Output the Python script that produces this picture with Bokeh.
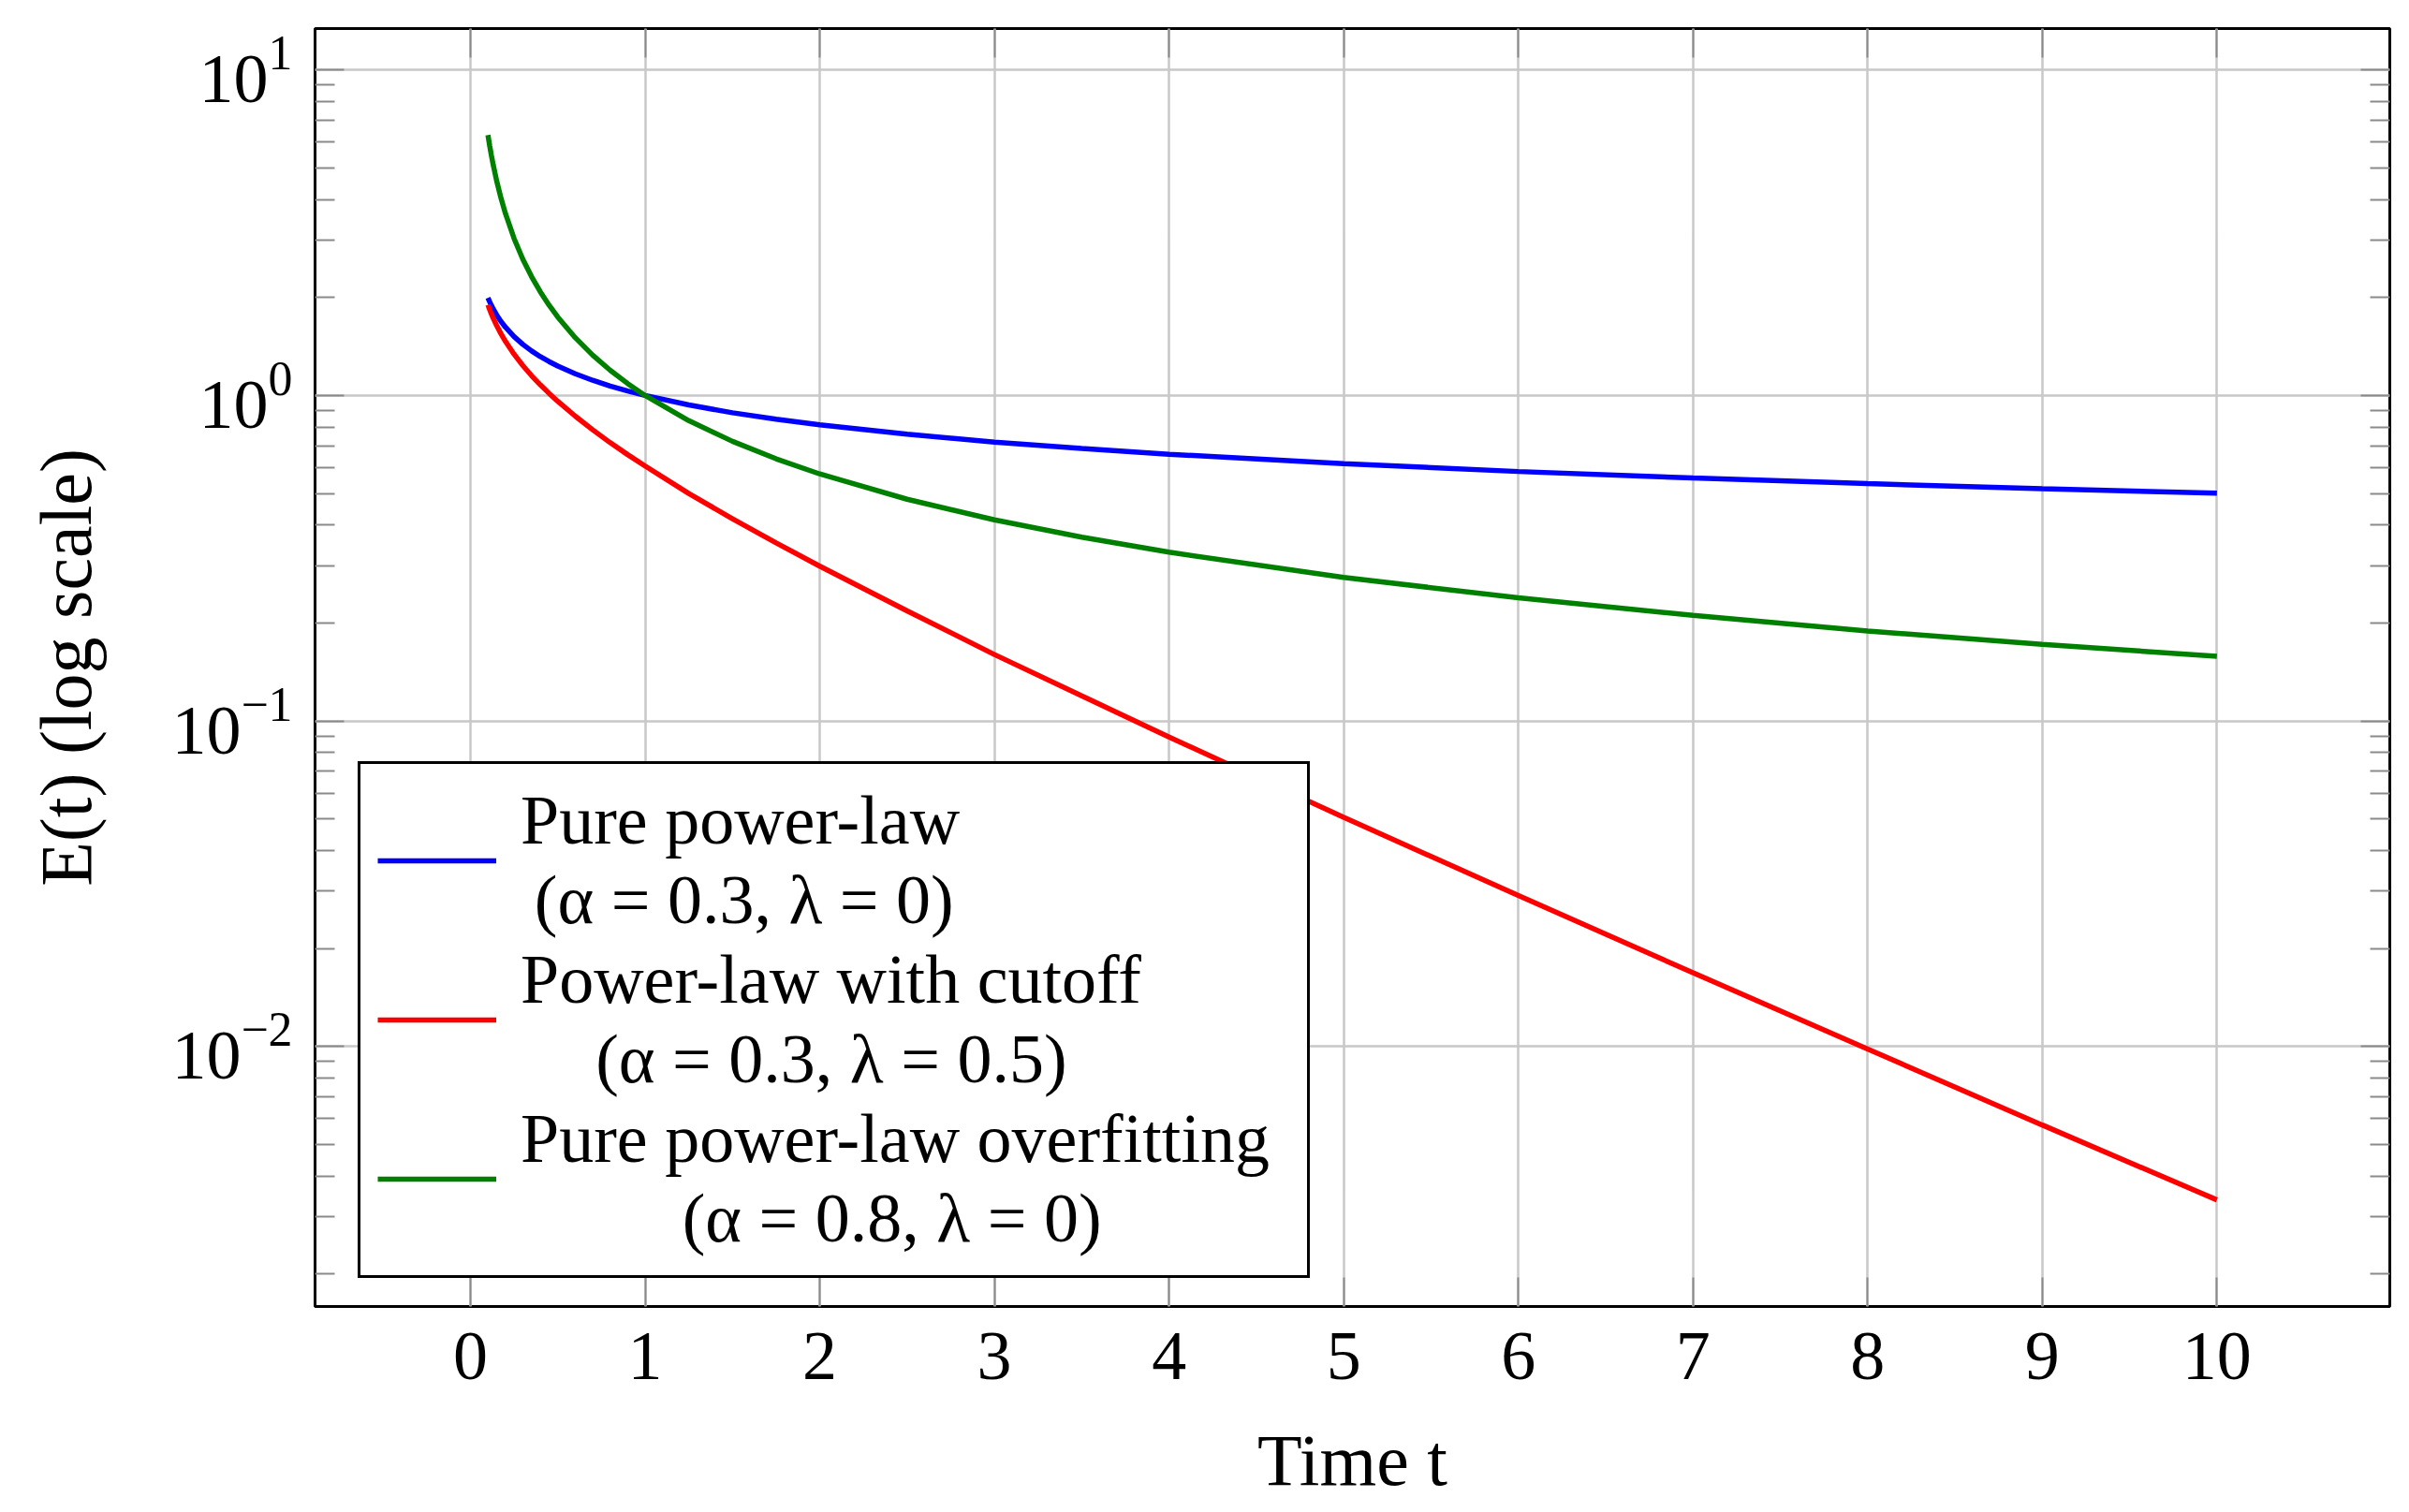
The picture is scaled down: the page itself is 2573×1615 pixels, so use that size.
from bokeh.plotting import figure
from bokeh.models import (Range1d, FixedTicker, LinearAxis, LogAxis, Legend,
                          LegendItem, LogTickFormatter, CustomJSTickFormatter)
from bokeh.embed import file_html
from bokeh.resources import INLINE

# ---- data ----
t = [0.1, 0.11, 0.12, 0.13, 0.15, 0.175, 0.2, 0.25, 0.3, 0.35, 0.4, 0.45, 0.5, 0.6,
     0.7, 0.8, 0.9, 1.0, 1.25, 1.5, 1.75, 2.0, 2.5, 3.0, 3.5, 4.0, 5.0, 6.0, 7.0,
     8.0, 9.0, 10.0]
pure_power = [1.995, 1.939, 1.889, 1.844, 1.767, 1.687, 1.621, 1.516, 1.435, 1.370,
              1.316, 1.271, 1.231, 1.166, 1.113, 1.069, 1.032, 1.000, 0.935, 0.885,
              0.8455, 0.812, 0.760, 0.719, 0.687, 0.660, 0.617, 0.584, 0.558, 0.536,
              0.517, 0.501]
power_cutoff = [1.898, 1.835, 1.779, 1.728, 1.640, 1.546, 1.467, 1.338, 1.235, 1.150,
                1.078, 1.015, 0.959, 0.864, 0.784, 0.716, 0.658, 0.607, 0.500, 0.418,
                0.3525, 0.299, 0.218, 0.160, 0.1194, 0.0893, 0.0506, 0.0291, 0.01685,
                0.00982, 0.00574, 0.00338]
power_overfit = [6.310, 5.847, 5.453, 5.115, 4.562, 4.033, 3.624, 3.031, 2.620, 2.316,
                 2.081, 1.894, 1.741, 1.505, 1.330, 1.195, 1.088, 1.000, 0.837, 0.723,
                 0.639, 0.574, 0.480, 0.415, 0.367, 0.330, 0.276, 0.239, 0.211, 0.189,
                 0.172, 0.158]

# second lines are indented with typographic spaces so they sit centred
series_labels = ["Pure power-law\n\u2009(α = 0.3, λ = 0)",
                 "Power-law with cutoff\n\u2003\u200a(α = 0.3, λ = 0.5)",
                 "Pure power-law overfitting\n\u2003\u2003\u2004(α = 0.8, λ = 0)"]
series_colors = ["#0000ff", "#ff0000", "#008000"]

x_ticks = [0, 1, 2, 3, 4, 5, 6, 7, 8, 9, 10]
y_ticks = [0.01, 0.1, 1, 10]
y_minor_ticks = [0.002, 0.003, 0.004, 0.005, 0.006, 0.007, 0.008, 0.009,
                 0.02, 0.03, 0.04, 0.05, 0.06, 0.07, 0.08, 0.09,
                 0.2, 0.3, 0.4, 0.5, 0.6, 0.7, 0.8, 0.9,
                 2, 3, 4, 5, 6, 7, 8, 9]

FONT = "Liberation Serif"
FS = "74px"
LABEL_FS = "78px"
TICK_COLOR = "#8a8a8a"
GRID_COLOR = "#c8c8c8"

p = figure(width=2565, height=1606,
           x_range=Range1d(-0.89, 10.99), y_range=Range1d(0.00159, 13.4),
           y_axis_type="log", output_backend="svg", toolbar_location=None,
           min_border_left=336, min_border_top=30, min_border_right=13,
           min_border_bottom=211)
p.background_fill_color = "white"
p.border_fill_color = "white"
p.outline_line_color = "black"
p.outline_line_width = 3

renderers = []
for ys, c in zip([pure_power, power_cutoff, power_overfit], series_colors):
    renderers.append(p.line(t, ys, line_color=c, line_width=5.5))

# axes
xt = FixedTicker(ticks=x_ticks, minor_ticks=[])
yt = FixedTicker(ticks=y_ticks, minor_ticks=y_minor_ticks)

def style_axis(ax):
    ax.axis_line_color = None
    ax.major_tick_in = 31
    ax.major_tick_out = 0
    ax.minor_tick_in = 21
    ax.minor_tick_out = 0
    ax.major_tick_line_color = TICK_COLOR
    ax.minor_tick_line_color = TICK_COLOR
    ax.major_tick_line_width = 2
    ax.minor_tick_line_width = 2
    ax.major_label_text_font = FONT
    ax.major_label_text_font_size = FS
    ax.major_label_text_color = "black"
    ax.axis_label_text_font = FONT
    ax.axis_label_text_font_size = LABEL_FS
    ax.axis_label_text_font_style = "normal"
    ax.axis_label_text_color = "black"

xa = p.xaxis[0]
xa.ticker = xt
style_axis(xa)
xa.axis_label = "Time t"
xa.major_label_standoff = 28
xa.axis_label_standoff = 40

ya = p.yaxis[0]
ya.ticker = yt
ya.formatter = LogTickFormatter()
style_axis(ya)
ya.axis_label = "E(t) (log scale)"
ya.major_label_standoff = 24
ya.axis_label_standoff = 66

blank = CustomJSTickFormatter(code="return ''")

top = LinearAxis(ticker=xt, formatter=blank)
style_axis(top)
p.add_layout(top, "above")

right = LogAxis(ticker=yt, formatter=blank)
style_axis(right)
p.add_layout(right, "right")

p.xgrid.ticker = xt
p.ygrid.ticker = yt
for g in (p.xgrid[0], p.ygrid[0]):
    g.grid_line_color = GRID_COLOR
    g.grid_line_width = 2.5

legend = Legend(items=[LegendItem(label=l, renderers=[r])
                       for l, r in zip(series_labels, renderers)],
                location=(46, 30))
legend.border_line_color = "black"
legend.border_line_alpha = 1
legend.border_line_width = 3
legend.background_fill_color = "white"
legend.background_fill_alpha = 1
legend.padding = 18
legend.spacing = 0
legend.margin = 0
legend.glyph_width = 127
legend.glyph_height = 40
legend.label_standoff = 26
legend.label_width = 822
legend.label_text_font = FONT
legend.label_text_font_size = FS
legend.label_text_line_height = 1.16
legend.label_text_color = "black"
p.add_layout(legend)

open("out.html", "w").write(file_html(p, INLINE))
